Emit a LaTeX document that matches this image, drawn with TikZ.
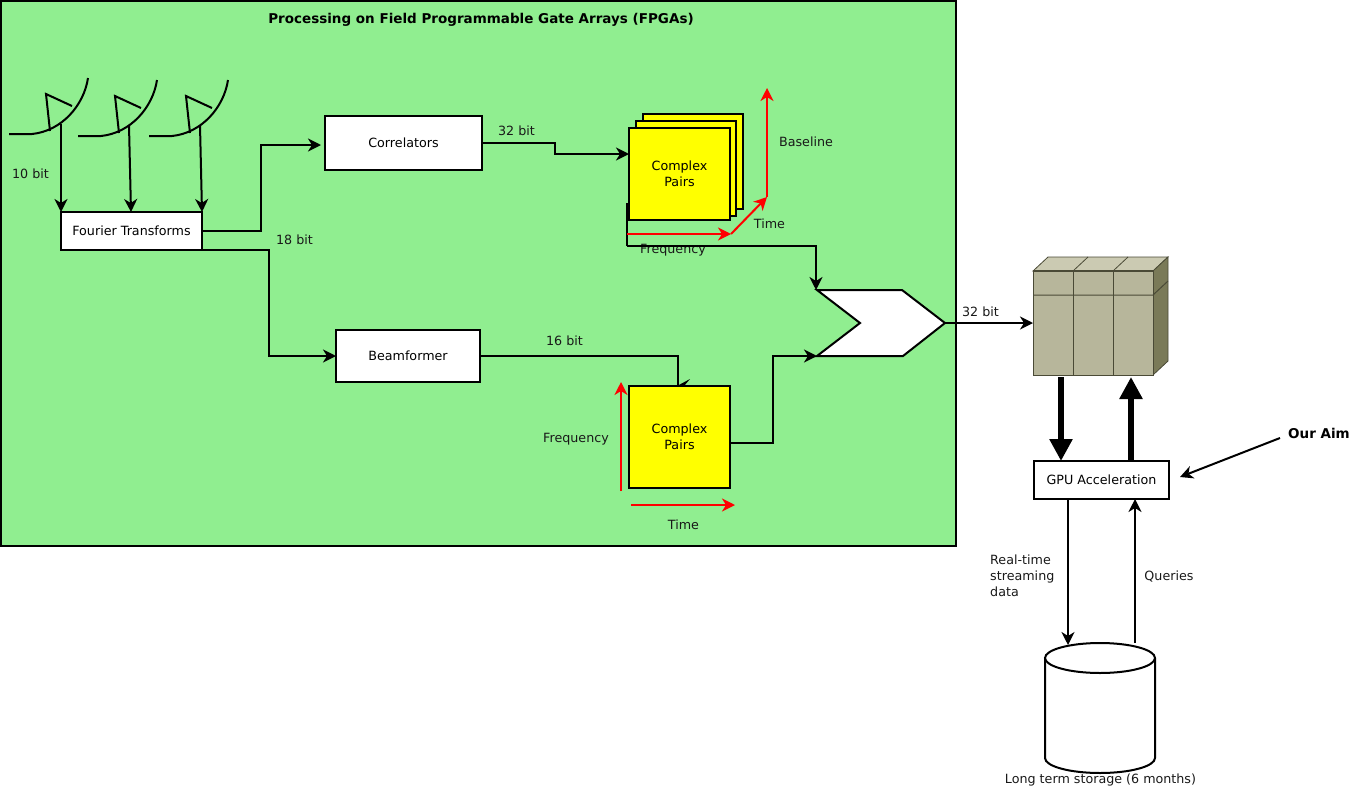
\documentclass[tikz,border=0pt]{standalone}
\usepackage{fontspec}
\setmainfont{DejaVu Sans}
\usetikzlibrary{arrows.meta,calc}
\definecolor{panelgreen}{HTML}{90EE90}
\definecolor{srvfront}{HTML}{B7B69B}
\definecolor{srvtop}{HTML}{CBCAB2}
\definecolor{srvside}{HTML}{7A7A58}
\definecolor{srvline}{HTML}{4A4A36}
\definecolor{pureyellow}{HTML}{FFFF00}
\definecolor{purered}{HTML}{FF0000}
\tikzset{
  x=1pt,y=-1pt,
  sized/.style 2 args={minimum width=#1pt,minimum height=#2pt},
  blockbox/.style={draw=black,line width=2pt,fill=white,inner sep=0pt,outer sep=0pt,anchor=north west,font=\fontsize{12.7}{15}\selectfont},
  pairbox/.style={draw=black,line width=2pt,fill=pureyellow,inner sep=0pt,outer sep=0pt,anchor=north west,align=center,font=\fontsize{12.7}{16}\selectfont},
  lbl/.style={inner sep=0pt,font=\fontsize{12.7}{16}\selectfont,text=black!90},
  boldlbl/.style={inner sep=0pt,font=\bfseries\fontsize{13.5}{16}\selectfont,text=black},
  conn/.style={draw=black,line width=2pt,-{Stealth[length=13pt,width=13pt,inset=4pt]}},
  plainconn/.style={draw=black,line width=2pt},
  redconn/.style={draw=purered,line width=2pt,-{Stealth[length=13pt,width=13pt,inset=4pt]}},
  heavy/.style={draw=black,line width=6pt,-{Triangle[length=22pt,width=22pt]}},
  dish/.style={draw=black,line width=2pt},
}
\begin{document}
\begin{tikzpicture}[line join=miter]
\useasboundingbox (0,0) rectangle (1352,790);
\node[draw=black,line width=2pt,fill=panelgreen,anchor=north west,inner sep=0pt,outer sep=0pt,minimum width=955pt,minimum height=545pt] (panel) at (1,1) {};
\node[boldlbl] (title) at (481,20) {Processing on Field Programmable Gate Arrays (FPGAs)};

% dishes
\foreach \dx/\dy in {0/0,69/2,140/2}{
  \draw[dish] (9+\dx,134+\dy) -- (32+\dx,134+\dy) .. controls (62+\dx,131+\dy) and (84+\dx,105+\dy) .. (88+\dx,78+\dy);
  \draw[dish] (50+\dx,131+\dy) -- (46+\dx,94+\dy) -- (72+\dx,106+\dy);
}
\coordinate (d1) at (61,124);
\coordinate (d2) at (129,125);
\coordinate (d3) at (200,125);

\node[blockbox,sized={141}{38}] (ft) at (61,212) {Fourier Transforms};
\node[blockbox,sized={157}{54}] (corr) at (325,116) {Correlators};
\node[blockbox,sized={144}{52}] (beam) at (336,330) {Beamformer};

\coordinate (ft1) at (61,212);
\coordinate (ft2) at (131,212);
\coordinate (ft3) at (202,212);
\draw[conn] (d1) -- (ft1);
\draw[conn] (d2) -- (ft2);
\draw[conn] (d3) -- (ft3);

\coordinate (corrin) at (321,145);
\coordinate (beamin) at (336,356);
\draw[conn] (ft.east) -- (261,231) -- (261,145) -- (corrin);
\draw[conn] (ft.south east) -- (269,250) -- (269,356) -- (beamin);

% stacked pairs
\node[pairbox,sized={100}{95}] (back) at (643,114) {};
\node[pairbox,sized={100}{95}] (mid) at (636,121) {};
\coordinate (st) at (627,203);
\coordinate (stb) at (627,246);
\draw[plainconn] (st) -- (stb);
\node[pairbox,sized={101}{92}] (front) at (629,128) {Complex\\Pairs};
\coordinate (frontin) at (629,154);
\draw[conn] (corr.east) -- (555,143) -- (555,154) -- (frontin);

% pentagon
\coordinate (p1) at (817,290);
\coordinate (p2) at (902,290);
\coordinate (p3) at (945,323);
\coordinate (p4) at (903,356);
\coordinate (p5) at (817,356);
\coordinate (p6) at (860,323);
\draw[line width=2pt,fill=white,line join=miter] (p1) -- (p2) -- (p3) -- (p4) -- (p5) -- (p6) -- cycle;

\node[lbl] (freq1) at (673,250) {Frequency};
\coordinate (pin) at (816,290);
\draw[conn] (stb) -- (816,246) -- (pin);

% lower pairs
\coordinate (bx) at (678,386);
\coordinate (lowout) at (730,443);
\draw[plainconn] (beam.east) -- (678,356) -- (bx);
\fill[black] (690,379) -- (677,386) -- (684,386) -- cycle;
\node[pairbox,sized={101}{102}] (lower) at (629,386) {Complex\\Pairs};
\draw[conn] (lowout) -- (773,443) -- (773,356) -- (p5);
\coordinate (srvin) at (1033,323);
\draw[conn] (p3) -- (srvin);

% red axes
\coordinate (r1) at (627,234);
\coordinate (r2) at (731,234);
\coordinate (r3) at (767,197);
\coordinate (r4) at (767,88);
\draw[redconn] (r1) -- (r2);
\draw[redconn] (r2) -- (r3);
\draw[redconn] (r3) -- (r4);
\coordinate (r5) at (621,491);
\coordinate (r6) at (621,382);
\coordinate (r7) at (631,505);
\coordinate (r8) at (735,505);
\draw[redconn] (r5) -- (r6);
\draw[redconn] (r7) -- (r8);

% labels
\node[lbl] (l10) at (30.5,174) {10 bit};
\node[lbl] (l18) at (294.5,240) {18 bit};
\node[lbl] (l32a) at (516.5,131) {32 bit};
\node[lbl] (l16) at (564.5,341) {16 bit};
\node[lbl] (lbase) at (806,142) {Baseline};
\node[lbl] (ltime1) at (769.5,224) {Time};
\node[lbl] (lfreq2) at (576,439) {Frequency};
\node[lbl] (ltime2) at (683.5,525) {Time};
\node[lbl] (l32b) at (980.5,312) {32 bit};
\node[boldlbl] (aim) at (1319,433) {Our Aim};
\node[lbl,align=left,anchor=west] (rt) at (990,576) {Real-time\\streaming\\data};
\node[lbl] (q) at (1169,576) {Queries};
\node[lbl] (lts) at (1100.5,780) {Long term storage (6 months)};

% server
\fill[srvtop,draw=srvline,line width=0.8pt] (1033,271) -- (1048,257) -- (1168,257) -- (1153,271) -- cycle;
\fill[srvside,draw=srvline,line width=0.8pt] (1153,271) -- (1168,257) -- (1168,361) -- (1153,375) -- cycle;
\node[draw=srvline,line width=1pt,fill=srvfront,anchor=north west,inner sep=0pt,outer sep=0pt,sized={120}{104}] (srv) at (1033,271) {};
\draw[srvline,line width=1pt] (1033,295) -- (1153,295) -- (1168,281);
\draw[srvline,line width=1.6pt] (1033,271) -- (1153,271);
\foreach \sx in {1073,1113}{
  \draw[srvline,line width=1pt] (\sx,271) -- (\sx,375);
  \draw[srvline,line width=0.8pt] (\sx,271) -- (\sx+15,257);
}

\node[blockbox,sized={135}{38}] (gpu) at (1034,461) {GPU Acceleration};
\coordinate (h1a) at (1061,377);
\coordinate (h1b) at (1061,461);
\coordinate (h2a) at (1131,461);
\coordinate (h2b) at (1131,377);
\draw[heavy] (h1a) -- (h1b);
\draw[heavy] (h2a) -- (h2b);

% storage
\draw[black,line width=2pt,fill=white] (1045,658) -- (1045,758) arc[start angle=180,end angle=360,x radius=55,y radius=-15] -- (1155,658);
\draw[black,line width=2pt,fill=white] (1100,658) ellipse[x radius=55,y radius=15];

\coordinate (g1) at (1068,499);
\coordinate (g2) at (1068,645);
\coordinate (g3) at (1135,643);
\coordinate (g4) at (1135,499);
\draw[conn] (g1) -- (g2);
\draw[conn] (g3) -- (g4);
\coordinate (aimfrom) at (1280,438);
\coordinate (aimto) at (1180,477);
\draw[conn] (aimfrom) -- (aimto);
\end{tikzpicture}
\end{document}
